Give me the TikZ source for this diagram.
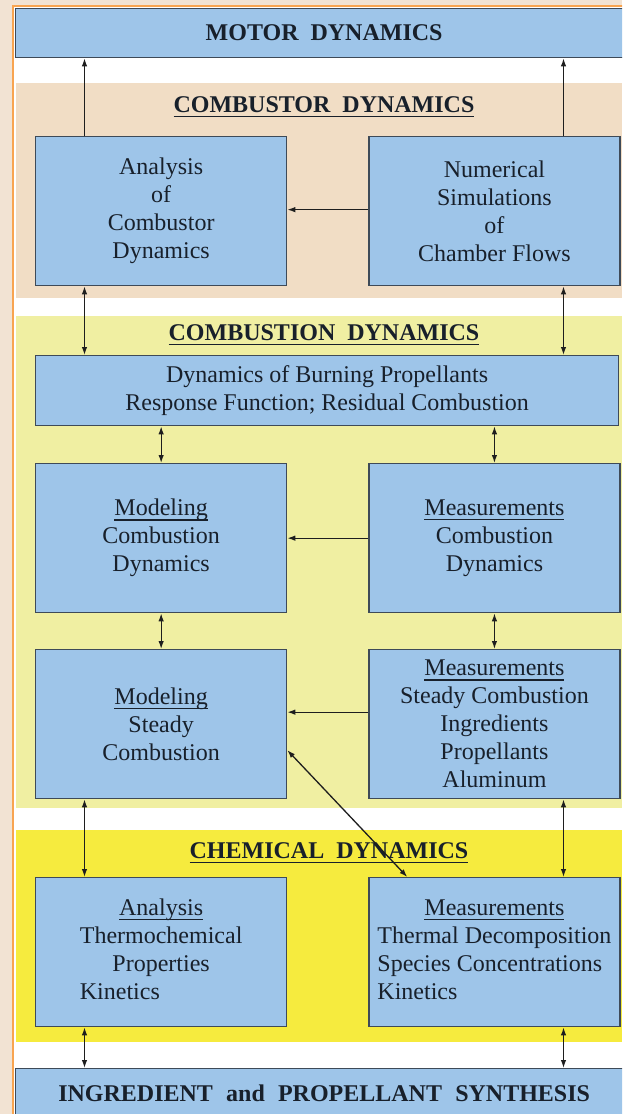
\documentclass[tikz,border=0pt]{standalone}
\usepackage{fontspec}
\setmainfont{Liberation Serif}
\usetikzlibrary{positioning,arrows.meta}
\definecolor{bgbeige}{HTML}{F2E3D3}
\definecolor{frameorange}{HTML}{F8A450}
\definecolor{peach}{HTML}{F1DDC5}
\definecolor{paleyellow}{HTML}{F0EFA2}
\definecolor{chemyellow}{HTML}{F6EB3E}
\definecolor{boxblue}{HTML}{9EC5E9}
\definecolor{boxline}{HTML}{3E4A58}
\definecolor{txt}{HTML}{18202B}
\definecolor{arr}{HTML}{1E1E1E}
% underlined word, rule just below the baseline
\newcommand{\uword}[2][1.2pt]{\leavevmode\vtop{\hbox{\raisebox{0pt}[\height][0pt]{#2}}\kern3.5pt\hrule height #1}}

\begin{document}
\begin{tikzpicture}[x=1pt,y=-1pt,
  box/.style = {draw=boxline, fill=boxblue, line width=1.3pt, minimum width=251pt, minimum height=149pt,
    inner sep=1pt, align=center, text=txt, font=\fontsize{24}{28}\selectfont},
  wide/.style = {draw=boxline, fill=boxblue, line width=1.3pt, minimum width=617pt, minimum height=49pt,
    text=txt, font=\bfseries\fontsize{24}{28}\selectfont},
  head/.style = {anchor=base, text=txt, font=\bfseries\fontsize{24}{28}\selectfont},
  link/.style = {draw=arr, line width=1.3pt, -{Latex[length=8pt,width=5.5pt]}},
  both/.style = {link, {Latex[length=8pt,width=5.5pt]}-{Latex[length=8pt,width=5.5pt]}},
  node distance=81pt]
  \useasboundingbox (0,0) rectangle (622,1114);
  \clip (0,0) rectangle (622,1114);
  % frame and bands
  \fill[bgbeige] (0,0) rectangle (622,1114);
  \draw[frameorange, line width=2.5pt, fill=white] (13,6) rectangle (640,1130);
  \fill[peach] (16,83) rectangle (622,298);
  \fill[paleyellow] (16,316) rectangle (622,808);
  \fill[chemyellow] (16,830) rectangle (622,1042);

  \coordinate (colL) at (84.5,0);
  \coordinate (colR) at (563.5,0);

  \node[wide, anchor=north west, text depth=2pt] (motor) at (15,8) {MOTOR\hspace{0.5em}DYNAMICS};

  % combustor
  \node[head] (hcr) at (324,112) {\uword[1.6pt]{COMBUSTOR\hspace{0.5em}DYNAMICS}};
  \node[box, anchor=north west] (anaC) at (35,136) {Analysis\\of\\Combustor\\Dynamics};
  \node[box] (numC) [right=of anaC] {Numerical\\Simulations\\of\\Chamber Flows};

  % combustion
  \node[head] (hcn) at (324,340) {\uword[1.6pt]{COMBUSTION\hspace{0.5em}DYNAMICS}};
  \node[box, anchor=north west, minimum width=583pt, minimum height=70pt] (dyn) at (35,355)
    {Dynamics of Burning Propellants\\Response Function; Residual Combustion};
  \node[box, anchor=north west] (modCD) at (35,463) {\uword{Modeling}\\Combustion\\Dynamics};
  \node[box] (measCD) [right=of modCD] {\uword{Measurements}\\Combustion\\Dynamics};
  \node[box, anchor=north west] (modSC) at (35,649) {\uword{Modeling}\\Steady\\Combustion};
  \node[box] (measSC) [right=of modSC] {\uword{Measurements}\\Steady Combustion\\Ingredients\\Propellants\\Aluminum};

  % chemical
  \node[head] (hch) at (329,858) {\uword[1.6pt]{CHEMICAL\hspace{0.5em}DYNAMICS}};
  \node[box, anchor=north west] (anaCh) at (35,877) {\begin{tabular}{@{}l@{}}
    \multicolumn{1}{@{}c@{}}{\uword{Analysis}}\\ Thermochemical\\
    \multicolumn{1}{@{}c@{}}{Properties}\\ Kinetics\end{tabular}};
  \node[box] (measCh) [right=of anaCh] {\begin{tabular}{@{}l@{}}
    \multicolumn{1}{@{}c@{}}{\uword{Measurements}}\\ Thermal Decomposition\\
    Species Concentrations\\ Kinetics\end{tabular}};

  \node[wide, anchor=north west] (synth) at (15,1068)
    {INGREDIENT\hspace{0.55em}and\hspace{0.55em}PROPELLANT\hspace{0.55em}SYNTHESIS};

  % connectors
  \draw[link] (anaC.north -| colL) -- (motor.south -| colL);
  \draw[link] (numC.north -| colR) -- (motor.south -| colR);
  \draw[link] ([yshift=1.5pt]numC.west) -- ([yshift=1.5pt]anaC.east);
  \draw[both] (anaC.south -| colL) -- (dyn.north -| colL);
  \draw[both] (numC.south -| colR) -- (dyn.north -| colR);
  \draw[both] (dyn.south -| modCD.north) -- (modCD.north);
  \draw[both] (dyn.south -| measCD.north) -- (measCD.north);
  \draw[link] (measCD.west) -- (modCD.east);
  \draw[both] (modCD.south) -- (modSC.north);
  \draw[both] (measCD.south) -- (measSC.north);
  \draw[link] ([yshift=12pt]measSC.west) -- ([yshift=12pt]modSC.east);
  \draw[both] ([xshift=39pt]measCh.north west) -- ([yshift=-26pt]modSC.east);
  \draw[both] (modSC.south -| colL) -- (anaCh.north -| colL);
  \draw[both] (measSC.south -| colR) -- (measCh.north -| colR);
  \draw[both] (anaCh.south -| colL) -- (synth.north -| colL);
  \draw[both] (measCh.south -| colR) -- (synth.north -| colR);
\end{tikzpicture}
\end{document}
